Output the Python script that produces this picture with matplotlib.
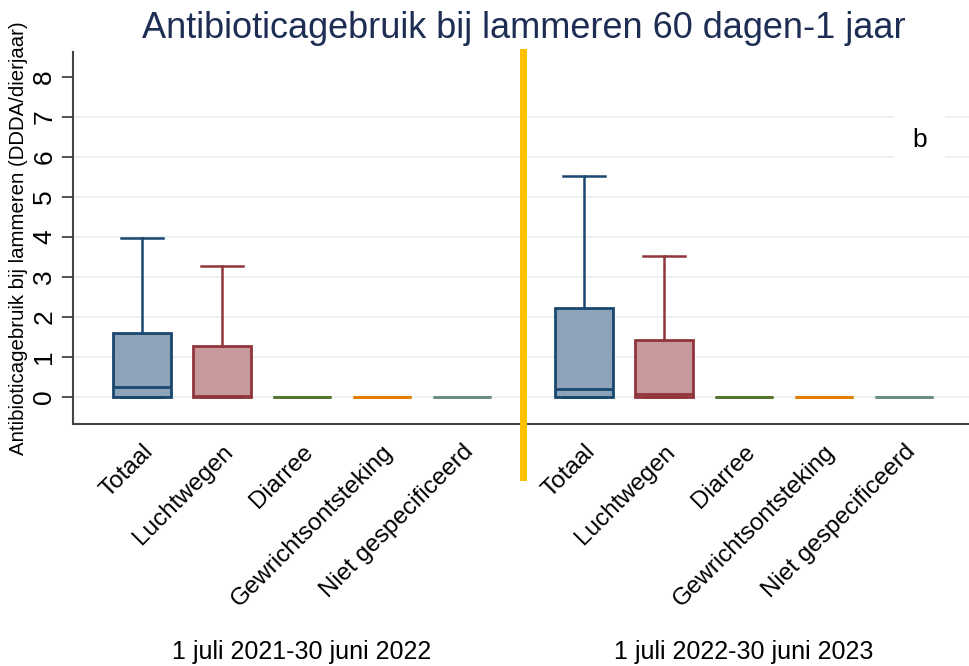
import matplotlib
matplotlib.use("Agg")
import matplotlib.pyplot as plt
from matplotlib.transforms import blended_transform_factory

plt.rcParams['font.family'] = ['Liberation Sans', 'DejaVu Sans']

# === DATA ===
categories = ["Totaal", "Luchtwegen", "Diarree", "Gewrichtsontsteking", "Niet gespecificeerd"]
periods = ["1 juli 2021-30 juni 2022", "1 juli 2022-30 juni 2023"]

# per period: q1, median, q3, upper whisker (lower whisker = 0)
q1 = [[0, 0, 0, 0, 0], [0, 0, 0, 0, 0]]
medians = [[0.25, 0.02, 0, 0, 0], [0.2, 0.07, 0, 0, 0]]
q3 = [[1.6, 1.28, 0, 0, 0], [2.22, 1.42, 0, 0, 0]]
whis_hi = [[3.98, 3.28, 0, 0, 0], [5.53, 3.53, 0, 0, 0]]
whis_lo = [[0, 0, 0, 0, 0], [0, 0, 0, 0, 0]]

edge_colors = ["#1a476f", "#90353b", "#55752f", "#e37e00", "#6e8e84"]
fill_colors = ["#8ca3b9", "#c8999c", "#55752f", "#e37e00", "#6e8e84"]

yticks = [0, 1, 2, 3, 4, 5, 6, 7, 8]

# === PLOT ===
fig = plt.figure(figsize=(9.7, 6.66), dpi=100)
ax = fig.add_axes([73 / 970, (666 - 424) / 666, (970 - 73) / 970, (424 - 52) / 666])

group_offset = 5.525
positions = []
labels = []
for g in range(len(periods)):
    for k, cat in enumerate(categories):
        pos = g * group_offset + k
        stats = [{
            "med": medians[g][k], "q1": q1[g][k], "q3": q3[g][k],
            "whislo": whis_lo[g][k], "whishi": whis_hi[g][k], "fliers": [],
        }]
        ax.bxp(stats, positions=[pos], widths=0.73, patch_artist=True,
               showfliers=False, manage_ticks=False,
               boxprops=dict(facecolor=fill_colors[k], edgecolor=edge_colors[k], linewidth=2),
               medianprops=dict(color=edge_colors[k], linewidth=2),
               whiskerprops=dict(color=edge_colors[k], linewidth=1.8),
               capprops=dict(color=edge_colors[k], linewidth=1.8),
               capwidths=0.53)
        positions.append(pos)
        labels.append(cat)

ax.set_xlim(-0.8625, 10.35)
ax.set_ylim(-0.675, 8.625)
ax.set_yticks(yticks)
ax.set_yticklabels([str(t) for t in yticks], rotation=90, va="center", fontsize=19)
ax.set_xticks(positions)
ax.set_xticklabels(labels, rotation=45, ha="right", rotation_mode="anchor", fontsize=17.5)
ax.tick_params(axis="x", length=0, pad=12)
ax.tick_params(axis="y", length=8, width=1.2, color="#333333", pad=4)

for t in yticks:
    if t < 8:
        ax.axhline(t, color="#eaf2f3", linewidth=1.5, zorder=0)

for side in ["top", "right"]:
    ax.spines[side].set_visible(False)
for side in ["left", "bottom"]:
    ax.spines[side].set_color("#444444")
    ax.spines[side].set_linewidth(1.5)

ax.set_ylabel("Antibioticagebruik bij lammeren (DDDA/dierjaar)", fontsize=14.7, labelpad=3)

# separator between periods
sep = (len(categories) - 1 + group_offset) / 2
ax.axvline(sep, ymin=-0.142, ymax=1.0, color="#ffc000", linewidth=5, clip_on=False, zorder=5)

ax.text(9.72, 6.42, "b", fontsize=19, ha="center", va="center",
        bbox=dict(boxstyle="square,pad=0.7", facecolor="white", edgecolor="none"))

fig.text(524 / 970, 1 - 28 / 666, "Antibioticagebruik bij lammeren 60 dagen-1 jaar",
         ha="center", va="center", fontsize=26, color="#1e2d54")

trans = blended_transform_factory(ax.transData, fig.transFigure)
for g, per in enumerate(periods):
    center = g * group_offset + (len(categories) - 1) / 2
    ax.text(center, (666 - 652) / 666, per, transform=trans, ha="center", va="center", fontsize=18)

fig.savefig("out.png", dpi=100)
